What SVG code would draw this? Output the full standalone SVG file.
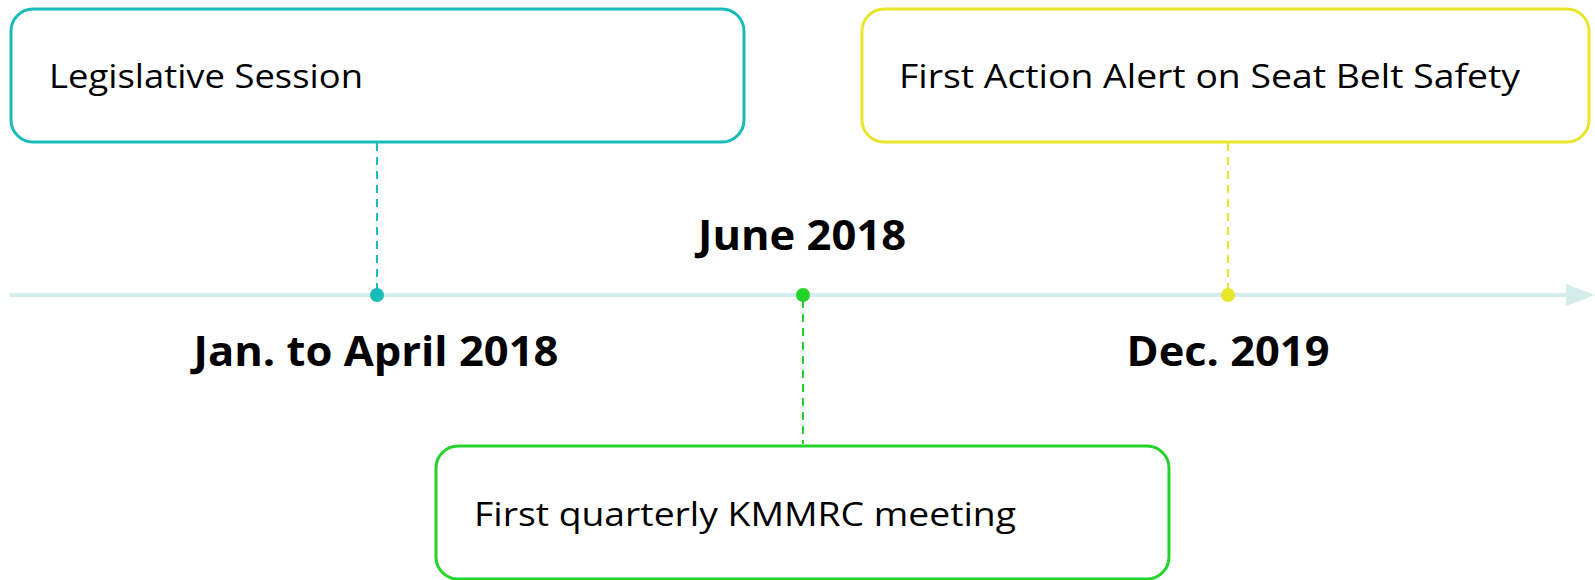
<svg xmlns="http://www.w3.org/2000/svg" width="1595" height="580" viewBox="0 0 1595 580">
<style>
.box{fill:#fff;stroke-width:3}
.txt{font-family:"Open Sans","Noto Sans",sans-serif;font-size:32px;fill:#000}
.lbl{font-family:"Open Sans","Noto Sans",sans-serif;font-size:42px;font-weight:bold;fill:#000;text-anchor:middle}
.dash{stroke-width:2;stroke-dasharray:8 6;fill:none}
</style>
<rect width="1595" height="580" fill="#fff"/>
<g id="connectors">
<line x1="10" y1="295" x2="1570" y2="295" stroke="#d5ecec" stroke-width="4"/>
<polygon points="1566,284 1595,295 1566,306" fill="#d5ecec"/>
<line class="dash" x1="377" y1="143" x2="377" y2="290" stroke="#17bcb9"/>
<line class="dash" x1="803" y1="300" x2="803" y2="444" stroke="#22d42a"/>
<line class="dash" x1="1228" y1="143" x2="1228" y2="290" stroke="#e8e62a"/>
</g>
<g id="node-legislative">
<rect class="box" x="11" y="9" width="733" height="133" rx="22" stroke="#17bcb9"/>
<text class="txt" x="49" y="88" textLength="314" lengthAdjust="spacingAndGlyphs">Legislative Session</text>
</g>
<g id="node-action-alert">
<rect class="box" x="862" y="9" width="727" height="133" rx="22" stroke="#e8e62a"/>
<text class="txt" x="899" y="88" textLength="621" lengthAdjust="spacingAndGlyphs">First Action Alert on Seat Belt Safety</text>
</g>
<g id="node-kmmrc">
<rect class="box" x="436" y="446" width="733" height="133" rx="22" stroke="#22d42a"/>
<text class="txt" x="474" y="526" textLength="542" lengthAdjust="spacingAndGlyphs">First quarterly KMMRC meeting</text>
</g>
<g id="dot-jan"><circle cx="377" cy="295" r="7" fill="#17bcb9"/>
<text class="lbl" x="376" y="366" textLength="365" lengthAdjust="spacingAndGlyphs">Jan. to April 2018</text></g>
<g id="dot-june"><circle cx="803" cy="295" r="7" fill="#22d42a"/>
<text class="lbl" x="802" y="250" textLength="208" lengthAdjust="spacingAndGlyphs">June 2018</text></g>
<g id="dot-dec"><circle cx="1228" cy="295" r="7" fill="#e8e62a"/>
<text class="lbl" x="1228" y="366" textLength="203" lengthAdjust="spacingAndGlyphs">Dec. 2019</text></g>
</svg>
